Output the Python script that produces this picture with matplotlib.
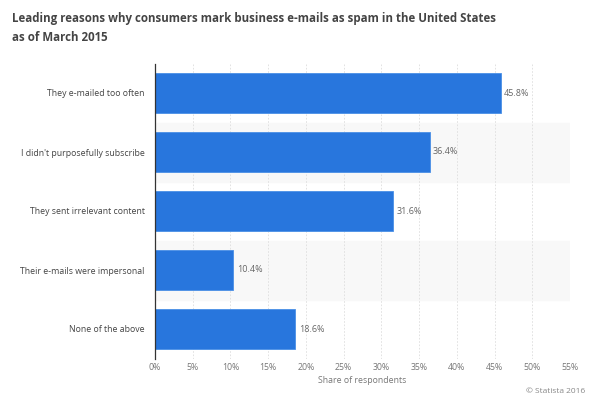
import matplotlib
matplotlib.use("Agg")
import matplotlib.pyplot as plt
import numpy as np

plt.rcParams['font.family'] = ['Open Sans', 'DejaVu Sans']

# data
categories = ["They e-mailed too often",
              "I didn't purposefully subscribe",
              "They sent irrelevant content",
              "Their e-mails were impersonal",
              "None of the above"]
values = [45.8, 36.4, 31.6, 10.4, 18.6]
xticks = [0, 5, 10, 15, 20, 25, 30, 35, 40, 45, 50, 55]

title = ("Leading reasons why consumers mark business e-mails as spam in the United States\n"
         "as of March 2015")

fig = plt.figure(figsize=(6, 3.96), dpi=100)
ax = fig.add_axes([155/600, 1 - 358.5/396, 415/600, 295/396])

y = np.arange(len(categories))

# alternating row bands
for i in y:
    if i % 2 == 1:
        ax.axhspan(i - 0.5, i + 0.5, color='#f8f8f8', zorder=0)

ax.barh(y, values, height=0.68, color='#2876dd', edgecolor='#4a8fe6',
        linewidth=0.6, zorder=3)

for yi, v in zip(y, values):
    ax.text(v + 0.45, yi, "%.1f%%" % v, va='center', ha='left',
            fontsize=6.5, color='#666666', zorder=4)

ax.set_xlim(0, 55)
ax.set_ylim(len(categories) - 0.5, -0.5)
ax.set_yticks(y)
ax.set_yticklabels(categories, fontsize=6.3, color='#444444')
ax.set_xticks(xticks)
ax.set_xticklabels(["%d%%" % t for t in xticks], fontsize=6.3, color='#777777')
ax.tick_params(axis='both', length=0)
ax.tick_params(axis='y', pad=7.5)
ax.tick_params(axis='x', pad=3)

ax.grid(axis='x', color='#dddddd', linestyle=(0, (2, 2)), linewidth=0.6, zorder=1)
ax.set_axisbelow(True)

for s in ['top', 'right', 'bottom']:
    ax.spines[s].set_visible(False)
ax.spines['left'].set_color('#333333')
ax.spines['left'].set_linewidth(0.9)
ax.spines['left'].set_zorder(5)

ax.set_xlabel("Share of respondents", fontsize=6.3, color='#777777', labelpad=3)

fig.text(12/600, 1 - 12/396, title, fontsize=8.3, fontweight='bold',
         color='#444444', ha='left', va='top', linespacing=1.6)

fig.text(585/600, 1/396, "© Statista 2016", fontsize=6, color='#888888',
         ha='right', va='bottom')

fig.savefig("out.png", dpi=100)
